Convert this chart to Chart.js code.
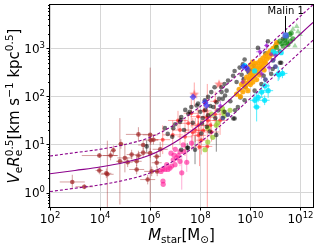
<!DOCTYPE html>
<html>
<head>
<meta charset="utf-8">
<script src="https://cdn.jsdelivr.net/npm/chart.js@4.4.0/dist/chart.umd.min.js"></script>
<style>
html, body { margin: 0; padding: 0; background: #fff; }
canvas { display: block; }
</style>
</head>
<body>
<canvas id="chart" width="318" height="245"></canvas>
<script>
// values are log10 of the plotted quantity: [log Mstar, log VeRe^0.5, x error (dex), y error (dex)]
var xTicks = [1e2, 1e4, 1e6, 1e8, 1e10, 1e12];
var yTicks = [1, 10, 100, 1000];

var fitLogM = [2, 3, 4, 5, 6, 7, 8, 9, 10, 11, 12, 12.5];
var fitMid = [0.39, 0.46, 0.53, 0.63, 0.78, 1.05, 1.42, 1.85, 2.33, 2.82, 3.30, 3.54];
var fitUpper = [0.76, 0.83, 0.90, 1.00, 1.15, 1.42, 1.79, 2.22, 2.70, 3.19, 3.67, 3.91];
var fitLower = [0.02, 0.09, 0.16, 0.26, 0.41, 0.68, 1.05, 1.48, 1.96, 2.45, 2.93, 3.17];

var dwarfs = [
  [2.89, 0.22, 0.5, 0.15], [3.37, 0.12, 0.35, 0.05], [3.97, 0.46, 0.15, 0.08],
  [4.29, 0.38, 0.25, 0.7], [4.25, 0.40, 0.2, 0.1], [3.97, 0.77, 0.7, 0.05],
  [4.42, 0.77, 0.3, 0.1], [4.53, 0.88, 0.1, 0.1], [4.79, 0.65, 0.15, 0.9],
  [4.83, 1.01, 0.1, 0.1], [4.99, 0.72, 0.3, 0.3], [5.26, 0.79, 0.2, 0.1],
  [5.53, 0.77, 0.15, 0.1], [5.53, 1.21, 0.5, 0.15], [5.72, 0.99, 0.2, 0.1],
  [6.00, 1.20, 0.3, 1.4], [6.13, 1.10, 0.2, 0.1], [6.02, 1.09, 0.3, 0.1],
  [6.00, 0.82, 0.2, 0.1], [6.06, 0.44, 0.3, 0.1], [6.26, 0.75, 0.15, 0.1],
  [6.26, 0.62, 0.2, 0.1], [5.72, 0.83, 0.2, 0.1], [5.46, 0.65, 0.2, 0.1],
  [5.46, 0.48, 0.3, 0.1], [5.90, 0.27, 0.3, 0.1], [6.28, 0.44, 0.2, 0.1],
  [5.10, 0.63, 0.2, 0.1], [6.40, 0.90, 0.3, 0.15]
];
var pinkDwarfs = [
  [6.52, 0.17, 0, 0], [6.51, 0.24, 0, 0], [6.43, 0.44, 0, 0], [6.50, 0.49, 0, 0],
  [6.59, 0.48, 0, 0], [6.66, 0.58, 0, 0], [6.71, 0.48, 0, 0], [6.79, 0.51, 0, 0],
  [6.86, 0.55, 0, 0], [6.83, 0.82, 0, 0], [6.92, 0.68, 0, 0], [6.99, 0.58, 0, 0],
  [7.06, 0.72, 0, 0], [7.12, 0.77, 0, 0], [7.19, 0.85, 0, 0], [7.19, 0.65, 0, 0.1],
  [7.32, 0.99, 0, 0], [7.46, 0.63, 0, 0.2], [7.65, 1.03, 0, 0.15], [7.26, 0.41, 0, 0.35],
  [7.00, 0.90, 0, 0], [6.95, 0.78, 0, 0], [7.35, 0.85, 0, 0]
];
var grayGals = [
  [7.24, 1.57, 0, 0], [7.58, 1.68, 0, 0], [7.64, 1.78, 0, 0], [7.91, 1.85, 0, 0],
  [8.18, 1.92, 0, 0], [8.31, 1.99, 0, 0], [8.44, 2.09, 0, 0], [8.57, 2.19, 0, 0],
  [8.84, 2.19, 0, 0], [8.97, 2.26, 0, 0], [9.11, 2.33, 0, 0], [9.31, 2.43, 0, 0],
  [9.37, 2.53, 0, 0], [9.57, 2.60, 0, 0], [9.70, 2.67, 0, 0], [9.77, 2.77, 0, 0],
  [10.30, 3.01, 0, 0], [10.70, 3.15, 0, 0], [11.03, 3.08, 0, 0], [11.17, 2.94, 0, 0],
  [11.23, 2.70, 0, 0], [10.83, 2.47, 0, 0], [10.44, 2.26, 0, 0], [10.17, 2.12, 0, 0],
  [9.77, 1.92, 0, 0], [9.50, 1.78, 0, 0], [9.37, 1.54, 0, 0], [8.97, 1.68, 0, 0],
  [8.71, 1.71, 0, 0], [8.31, 1.61, 0, 0], [7.19, 1.47, 0, 0], [6.92, 1.34, 0, 0],
  [6.88, 1.16, 0, 0], [8.06, 1.44, 0, 0], [8.26, 1.37, 0, 0], [8.65, 1.88, 0, 0],
  [7.86, 1.81, 0, 0], [7.52, 1.64, 0, 0], [7.22, 1.51, 0, 0], [6.59, 1.34, 0, 0],
  [7.48, 0.93, 0, 0.1], [7.79, 0.89, 0, 0.3], [8.52, 1.78, 0, 0], [7.24, 0.89, 0, 0],
  [7.51, 0.93, 0, 0], [8.04, 1.23, 0, 0], [8.38, 1.27, 0, 0], [8.64, 1.20, 0, 0.35],
  [9.32, 1.54, 0, 0], [9.39, 1.71, 0, 0], [9.60, 1.98, 0, 0], [9.80, 2.19, 0, 0],
  [9.73, 2.36, 0, 0], [9.93, 2.50, 0, 0], [10.13, 2.64, 0, 0], [11.18, 2.70, 0, 0],
  [10.89, 2.57, 0, 0], [10.53, 2.43, 0, 0], [8.85, 2.09, 0, 0], [8.99, 2.02, 0, 0],
  [9.20, 1.90, 0, 0], [5.86, 0.96, 0, 0.12], [6.70, 1.22, 0, 0], [7.00, 1.42, 0, 0],
  [7.40, 1.72, 0, 0], [8.00, 1.68, 0, 0], [8.90, 1.95, 0, 0], [10.00, 2.55, 0, 0],
  [10.60, 2.90, 0, 0], [11.30, 3.20, 0, 0], [8.10, 1.55, 0, 0], [8.40, 1.80, 0, 0],
  [8.75, 1.95, 0, 0], [9.05, 2.12, 0, 0], [7.70, 1.45, 0, 0], [8.20, 1.72, 0, 0],
  [9.45, 2.30, 0, 0], [8.60, 1.55, 0, 0], [7.35, 1.30, 0, 0], [9.65, 2.45, 0, 0]
];
var redGals = [
  [7.92, 1.40, 0.3, 0.2], [8.26, 1.56, 0.4, 0.25], [8.59, 1.63, 0.3, 0.2], [8.79, 1.50, 0.3, 0.3],
  [8.12, 1.29, 0.25, 0.2], [8.45, 1.26, 0.3, 0.2], [7.92, 1.19, 0.3, 0.3], [7.64, 1.65, 0.3, 0.3],
  [7.91, 1.58, 0.3, 0.2], [8.31, 1.50, 0.3, 0.2], [7.11, 1.50, 0.4, 0.2], [8.04, 1.09, 0.2, 0.3],
  [7.97, 0.95, 0.2, 0.4], [7.39, 1.16, 0.3, 0.4], [7.19, 1.30, 0.3, 0.3], [7.52, 1.44, 0.3, 0.2],
  [8.28, 0.96, 0.2, 1.3], [7.80, 1.30, 0.4, 0.25], [8.60, 1.90, 0.2, 0.2], [6.50, 1.10, 0.3, 0.3],
  [6.90, 1.20, 0.4, 0.3], [8.15, 1.70, 0.3, 0.2], [8.40, 1.40, 0.3, 0.25], [7.70, 1.25, 0.3, 0.3]
];
var redStars = [[7.76, 2.04, 0, 0.25], [8.75, 2.25, 0, 0]];
var orangeGals = [
  [9.45, 2.05, 0.08, 0.05], [9.55, 2.15, 0.08, 0.05], [9.60, 2.00, 0.08, 0.05], [9.65, 2.25, 0.08, 0.05],
  [9.70, 2.10, 0.08, 0.05], [9.75, 2.30, 0.08, 0.05], [9.80, 2.20, 0.08, 0.05], [9.85, 2.40, 0.08, 0.05],
  [9.90, 2.28, 0.08, 0.05], [9.95, 2.35, 0.08, 0.05], [10.00, 2.45, 0.08, 0.05], [10.00, 2.25, 0.08, 0.05],
  [10.05, 2.55, 0.08, 0.05], [10.05, 2.38, 0.08, 0.05], [10.10, 2.48, 0.08, 0.05], [10.15, 2.60, 0.08, 0.05],
  [10.15, 2.42, 0.08, 0.05], [10.20, 2.52, 0.08, 0.05], [10.20, 2.68, 0.08, 0.05], [10.25, 2.58, 0.08, 0.05],
  [10.30, 2.70, 0.08, 0.05], [10.30, 2.50, 0.08, 0.05], [10.35, 2.62, 0.08, 0.05], [10.40, 2.75, 0.08, 0.05],
  [10.40, 2.58, 0.08, 0.05], [10.45, 2.68, 0.08, 0.05], [10.50, 2.80, 0.08, 0.05], [10.50, 2.62, 0.08, 0.05],
  [10.55, 2.72, 0.08, 0.05], [10.60, 2.85, 0.08, 0.05], [10.60, 2.70, 0.08, 0.05], [10.65, 2.78, 0.08, 0.05],
  [10.70, 2.90, 0.08, 0.05], [10.75, 2.82, 0.08, 0.05], [10.80, 2.95, 0.08, 0.05], [10.85, 2.88, 0.08, 0.05],
  [10.90, 3.00, 0.08, 0.05], [10.95, 2.92, 0.08, 0.05], [11.00, 3.05, 0.08, 0.05], [11.05, 3.12, 0.08, 0.05],
  [10.10, 2.30, 0.08, 0.05], [9.90, 2.12, 0.08, 0.05], [10.35, 2.45, 0.08, 0.05], [10.55, 2.55, 0.08, 0.05],
  [10.25, 2.35, 0.08, 0.05], [10.00, 2.65, 0.08, 0.05], [9.90, 2.55, 0.08, 0.05], [10.10, 2.72, 0.08, 0.05]
];
var cyanGals = [
  [10.45, 2.09, 0.2, 0.1], [10.71, 2.12, 0.2, 0.15], [10.31, 1.98, 0.2, 0.1], [10.25, 1.78, 0.15, 0.3],
  [10.18, 1.92, 0.2, 0.15], [11.15, 2.45, 0.25, 0.1], [11.28, 2.48, 0.2, 0.1], [10.58, 2.22, 0.2, 0.1],
  [10.17, 2.53, 0.15, 0.05], [9.77, 2.64, 0.15, 0.05], [10.57, 1.92, 0.2, 0.1], [11.11, 2.47, 0.15, 0.15],
  [11.23, 2.91, 0, 0], [10.91, 2.94, 0, 0], [11.0, 2.90, 0, 0]
];
var greenGals = [
  [11.18, 3.15], [11.44, 3.23], [11.57, 3.29], [11.63, 3.32], [11.44, 3.12], [11.31, 3.05],
  [11.50, 3.08], [11.05, 3.02], [11.70, 3.20], [11.38, 3.17], [11.25, 3.10], [11.60, 3.15]
];
var paleGreenGals = [[11.85, 3.46], [11.98, 3.29], [11.78, 3.05], [11.90, 3.35], [11.70, 3.40]];
var yellowGreenGals = [
  [8.19, 0.89], [8.45, 1.63], [8.30, 1.34], [8.64, 1.40], [8.70, 1.45], [9.19, 1.71],
  [8.92, 1.68], [8.88, 1.75], [8.30, 1.05], [8.50, 1.15], [8.95, 1.60]
];
var purpleGals = [
  [10.83, 2.88, 0.15, 0.1], [10.38, 2.93, 0.15, 0.1], [10.65, 3.06, 0.1, 0.1], [10.44, 2.47, 0.1, 0.1],
  [10.75, 2.60, 0.1, 0.1], [11.00, 2.85, 0.1, 0.1], [8.80, 1.80, 0.1, 0.1], [9.70, 2.30, 0.1, 0.1]
];
var blueGals = [[8.19, 1.88], [9.84, 2.60], [9.72, 2.62], [9.90, 2.55], [8.25, 1.81], [7.71, 1.99]];
var navyGals = [[10.90, 2.75], [11.00, 2.62], [10.60, 2.35], [8.90, 1.55], [9.10, 1.62]];
var malin1 = [11.41, 3.27];

function pts(arr) {
  return arr.map(function (p) { return { x: Math.pow(10, p[0]), y: Math.pow(10, p[1]) }; });
}
function curve(ys) {
  return fitLogM.map(function (m, i) { return { x: Math.pow(10, m), y: Math.pow(10, ys[i]) }; });
}
function starImage(color, r) {
  var c = document.createElement('canvas');
  c.width = c.height = 2 * r + 2;
  var g = c.getContext('2d');
  g.fillStyle = color;
  g.beginPath();
  for (var i = 0; i < 10; i++) {
    var rr = i % 2 ? r * 0.42 : r;
    var a = -Math.PI / 2 + i * Math.PI / 5;
    g.lineTo(r + 1 + rr * Math.cos(a), r + 1 + rr * Math.sin(a));
  }
  g.closePath();
  g.fill();
  return c;
}

var FONT = "'DejaVu Sans', sans-serif";
function fontStr(p) { return (p.it ? 'italic ' : '') + p.size + 'px ' + FONT; }
function richWidth(ctx, parts) {
  var w = 0;
  parts.forEach(function (p) { ctx.font = fontStr(p); if (!p.stay) w += ctx.measureText(p.t).width; });
  return w;
}
function drawRich(ctx, parts, x, y, align) {
  var w = richWidth(ctx, parts);
  var cx = align === 'center' ? x - w / 2 : align === 'right' ? x - w : x;
  ctx.textAlign = 'left';
  ctx.textBaseline = 'alphabetic';
  parts.forEach(function (p) {
    ctx.font = fontStr(p);
    ctx.fillText(p.t, cx, y + (p.dy || 0));
    if (!p.stay) cx += ctx.measureText(p.t).width;
  });
}

var errorSets = [
  { data: dwarfs, color: 'rgba(165,42,42,0.45)' },
  { data: pinkDwarfs, color: 'rgba(255,105,180,0.55)' },
  { data: grayGals, color: 'rgba(0,0,0,0.45)' },
  { data: redGals, color: 'rgba(255,0,0,0.35)' },
  { data: redStars, color: 'rgba(255,60,60,0.45)' },
  { data: orangeGals, color: 'rgba(255,165,0,0.6)' },
  { data: cyanGals, color: 'rgba(0,230,255,0.7)' },
  { data: purpleGals, color: 'rgba(148,0,211,0.5)' }
];

var axisDecor = {
  id: 'axisDecor',
  beforeDatasetsDraw: function (chart) {
    var ctx = chart.ctx, xs = chart.scales.x, ys = chart.scales.y, a = chart.chartArea;
    ctx.save();
    ctx.beginPath();
    ctx.rect(a.left, a.top, a.right - a.left, a.bottom - a.top);
    ctx.clip();
    ctx.lineWidth = 1;
    errorSets.forEach(function (s) {
      ctx.strokeStyle = s.color;
      s.data.forEach(function (p) {
        var px = xs.getPixelForValue(Math.pow(10, p[0]));
        var py = ys.getPixelForValue(Math.pow(10, p[1]));
        ctx.beginPath();
        if (p[2]) {
          ctx.moveTo(xs.getPixelForValue(Math.pow(10, p[0] - p[2])), py);
          ctx.lineTo(xs.getPixelForValue(Math.pow(10, p[0] + p[2])), py);
        }
        if (p[3]) {
          ctx.moveTo(px, ys.getPixelForValue(Math.pow(10, p[1] - p[3])));
          ctx.lineTo(px, ys.getPixelForValue(Math.pow(10, p[1] + p[3])));
        }
        ctx.stroke();
      });
    });
    ctx.restore();
  },
  afterDraw: function (chart) {
    var ctx = chart.ctx, xs = chart.scales.x, ys = chart.scales.y, a = chart.chartArea;
    ctx.save();
    ctx.fillStyle = '#000';
    ctx.strokeStyle = '#000';
    ctx.lineWidth = 1;
    // frame
    ctx.strokeRect(a.left - 0.5, a.top - 0.5, a.right - a.left + 1, a.bottom - a.top + 1);
    // y ticks
    ctx.beginPath();
    for (var e = -1; e <= 3; e++) {
      for (var k = 1; k <= 9; k++) {
        var v = k * Math.pow(10, e);
        if (v < ys.min || v > ys.max) continue;
        var py = Math.round(ys.getPixelForValue(v)) + 0.5;
        ctx.moveTo(a.left, py);
        ctx.lineTo(a.left - (k === 1 ? 3.5 : 2), py);
      }
    }
    xTicks.forEach(function (v) {
      var px = Math.round(xs.getPixelForValue(v)) + 0.5;
      ctx.moveTo(px, a.bottom);
      ctx.lineTo(px, a.bottom + 3.5);
    });
    ctx.stroke();
    yTicks.forEach(function (v) {
      var py = ys.getPixelForValue(v);
      var ex = String(Math.round(Math.log10(v)));
      drawRich(ctx, [{ t: '10', size: 12 }, { t: ex, size: 8.5, dy: -5 }], a.left - 5, py + 4.5, 'right');
    });
    xTicks.forEach(function (v) {
      var px = xs.getPixelForValue(v);
      var ex = String(Math.round(Math.log10(v)));
      drawRich(ctx, [{ t: '10', size: 12 }, { t: ex, size: 8.5, dy: -5 }], px, a.bottom + 16, 'center');
    });
    // axis titles
    drawRich(ctx, [
      { t: 'M', size: 15, it: true }, { t: 'star', size: 10.5, dy: 3 },
      { t: '[M', size: 15 }, { t: '\u2299', size: 10.5, dy: 3 }, { t: ']', size: 15 }
    ], (a.left + a.right) / 2, 240, 'center');
    ctx.save();
    ctx.translate(19, (a.top + a.bottom) / 2);
    ctx.rotate(-Math.PI / 2);
    drawRich(ctx, [
      { t: 'V', size: 15, it: true }, { t: 'e', size: 10.5, dy: 3 },
      { t: 'R', size: 15, it: true }, { t: 'e', size: 10.5, dy: 3, stay: true }, { t: '0.5', size: 10.5, dy: -6 },
      { t: '[km s', size: 15 }, { t: '\u22121', size: 10.5, dy: -6 },
      { t: ' kpc', size: 15 }, { t: '0.5', size: 10.5, dy: -6 }, { t: ']', size: 15 }
    ], 0, 0, 'center');
    ctx.restore();
    // Malin 1 annotation
    var mx = xs.getPixelForValue(Math.pow(10, malin1[0]));
    var my = ys.getPixelForValue(Math.pow(10, malin1[1]));
    ctx.beginPath();
    ctx.moveTo(Math.round(mx) - 0.5, 16);
    ctx.lineTo(Math.round(mx) - 0.5, my - 3);
    ctx.stroke();
    ctx.font = '10px ' + FONT;
    ctx.textAlign = 'center';
    ctx.textBaseline = 'alphabetic';
    ctx.fillText('Malin 1', mx, 13.5);
    ctx.restore();
  }
};

function scatterSet(data, color, r, style) {
  return {
    data: pts(data),
    pointStyle: style || 'circle',
    pointRadius: r,
    backgroundColor: color,
    borderColor: color,
    borderWidth: 0
  };
}
function fitSet(ys, dash) {
  return {
    data: curve(ys),
    showLine: true,
    pointRadius: 0,
    borderColor: '#8b008b',
    borderWidth: 1.1,
    borderDash: dash,
    cubicInterpolationMode: 'monotone',
    fill: false
  };
}

new Chart(document.getElementById('chart'), {
  type: 'scatter',
  data: {
    datasets: [
      fitSet(fitMid, []),
      fitSet(fitUpper, [3, 2]),
      fitSet(fitLower, [3, 2]),
      scatterSet([malin1], 'rgba(65,105,225,0.9)', 3.2),
      scatterSet(blueGals, 'rgba(40,40,255,0.65)', 3.5, 'rectRot'),
      scatterSet(greenGals, 'rgba(0,128,0,0.6)', 2.6),
      scatterSet(paleGreenGals, 'rgba(130,200,130,0.7)', 3.2, 'triangle'),
      scatterSet(purpleGals, 'rgba(148,0,211,0.55)', 2),
      scatterSet(cyanGals, 'rgba(0,230,255,0.85)', 2.6),
      scatterSet(navyGals, 'rgba(25,25,112,0.7)', 2.4),
      scatterSet(orangeGals, 'rgba(255,165,0,0.85)', 2.6),
      scatterSet(grayGals, 'rgba(0,0,0,0.55)', 2.3),
      scatterSet(yellowGreenGals, 'rgba(154,205,50,0.75)', 2.6),
      scatterSet(redStars, 'rgba(255,80,80,0.7)', 5, starImage('rgba(255,80,80,0.7)', 5)),
      scatterSet(redGals, 'rgba(255,0,0,0.55)', 2),
      scatterSet(pinkDwarfs, 'rgba(255,20,147,0.6)', 2.6),
      scatterSet(dwarfs, 'rgba(160,35,35,0.7)', 2.3)
    ]
  },
  options: {
    responsive: false,
    animation: false,
    layout: { padding: { left: 50, right: 5, top: 3, bottom: 38 } },
    plugins: { legend: { display: false }, tooltip: { enabled: false } },
    scales: {
      x: {
        type: 'logarithmic',
        min: 1e2,
        max: Math.pow(10, 12.5),
        afterBuildTicks: function (axis) { axis.ticks = xTicks.map(function (v) { return { value: v }; }); },
        ticks: { display: false },
        grid: { color: '#d6d6d6', lineWidth: 1, drawTicks: false },
        border: { display: false }
      },
      y: {
        type: 'logarithmic',
        min: 0.5,
        max: 8000,
        afterBuildTicks: function (axis) { axis.ticks = yTicks.map(function (v) { return { value: v }; }); },
        ticks: { display: false },
        grid: { color: '#d6d6d6', lineWidth: 1, drawTicks: false },
        border: { display: false }
      }
    }
  },
  plugins: [axisDecor]
});
</script>
</body>
</html>
